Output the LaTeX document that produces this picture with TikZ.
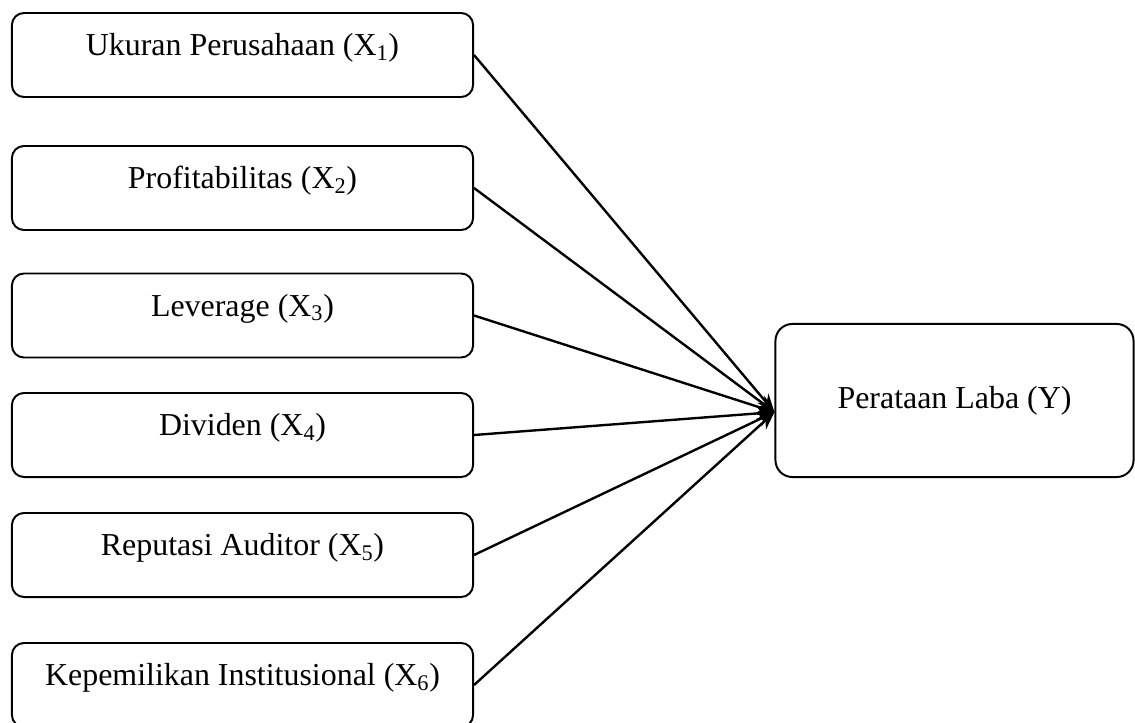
\documentclass[tikz,border=0pt]{standalone}
\usepackage{fontspec}
\setmainfont{Liberation Serif}
\usetikzlibrary{arrows.meta}

\begin{document}
\begin{tikzpicture}[x=0.025cm,y=-0.025cm,
  var/.style={draw,rounded corners=0.3cm,line width=1.4pt,minimum width=11.525cm,minimum height=2.1cm,inner sep=0pt,text height=0.55cm,text depth=0.52cm,font=\fontsize{22.7}{27}\selectfont},
  dep/.style={draw,rounded corners=0.42cm,line width=1.4pt,minimum width=8.95cm,minimum height=3.825cm,inner sep=0pt,font=\fontsize{22.7}{27}\selectfont},
  arr/.style={-{Stealth[length=0.45cm,width=0.36cm]},line width=1.7pt}
]
\useasboundingbox (0,0) rectangle (1135,722);
\node[var] (x1) at (242.5,55) {Ukuran Perusahaan (X\textsubscript{1})};
\node[var] (x2) at (242.5,188) {Profitabilitas (X\textsubscript{2})};
\node[var] (x3) at (242.5,315.5) {Leverage (X\textsubscript{3})};
\node[var] (x4) at (242.5,435) {Dividen (X\textsubscript{4})};
\node[var] (x5) at (242.5,555) {Reputasi Auditor (X\textsubscript{5})};
\node[var] (x6) at (242.5,685) {Kepemilikan Institusional (X\textsubscript{6})};
\node[dep] (y) at (954.5,400.5) {Perataan Laba (Y)};
\coordinate (yin) at ([yshift=-0.29cm]y.west);
\foreach \v in {x1,x2,x3,x4,x5,x6} {
  \draw[arr] (\v.east) -- (yin);
}
\end{tikzpicture}
\end{document}
